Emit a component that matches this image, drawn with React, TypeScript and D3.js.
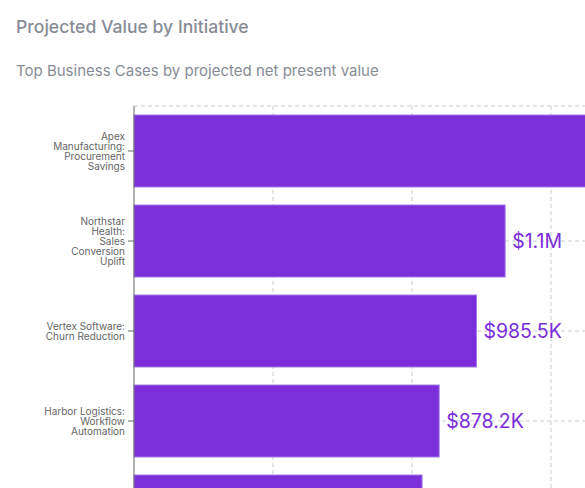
import * as d3 from "d3";
import * as React from "react";

// Business cases, ranked by projected NPV (USD)
const categories = [
  "Apex Manufacturing: Procurement Savings",
  "Northstar Health: Sales Conversion Uplift",
  "Vertex Software: Churn Reduction",
  "Harbor Logistics: Workflow Automation",
  "Summit Retail: Inventory Optimization",
];
const categoryLines = [
  ["Apex", "Manufacturing:", "Procurement", "Savings"],
  ["Northstar", "Health:", "Sales", "Conversion", "Uplift"],
  ["Vertex Software:", "Churn Reduction"],
  ["Harbor Logistics:", "Workflow", "Automation"],
  ["Summit Retail:", "Inventory", "Optimization"],
];
const values = [1450000, 1068000, 985500, 878200, 829000];
const xTicks = [0, 400000, 800000, 1200000, 1600000];

const width = 585;
const height = 488;
const margin = { top: 106, left: 134 };
const barColor = "#7b2ed9";
const gridColor = "#cccccc";
const fontFamily = "Inter, 'Noto Sans', sans-serif";

const fmt = (v: number) =>
  v >= 1e6 ? `$${(v / 1e6).toFixed(1)}M` : `$${(v / 1e3).toFixed(1)}K`;

export default function App() {
  const x = d3
    .scaleLinear()
    .domain([0, 1600000])
    .range([margin.left, margin.left + 556]);

  const y = d3
    .scaleBand()
    .domain(categories)
    .range([margin.top, margin.top + 450])
    .paddingInner(0.2)
    .paddingOuter(0.1);

  const center = (c: string) => (y(c) as number) + y.bandwidth() / 2;
  const gridBottom = margin.top + 450;

  return (
    <svg
      width={width}
      height={height}
      style={{ position: "absolute", left: 0, top: 0, fontFamily }}
    >
      <text x={16} y={33} fontSize={17.6} fontWeight={500} fill="#878c96">
        Projected Value by Initiative
      </text>
      <text x={16} y={76} fontSize={15} fill="#878c96">
        Top Business Cases by projected net present value
      </text>

      {/* grid */}
      <g stroke={gridColor} strokeDasharray="4 3">
        <line x1={margin.left} x2={width + 200} y1={margin.top} y2={margin.top} />
        {categories.map((c) => (
          <line key={c} x1={margin.left} x2={width + 200} y1={center(c)} y2={center(c)} />
        ))}
        {xTicks.slice(1).map((t) => (
          <line key={t} x1={x(t)} x2={x(t)} y1={margin.top} y2={gridBottom} />
        ))}
      </g>

      {/* bars */}
      {categories.map((c, i) => (
        <rect
          key={c}
          x={x(0)}
          y={y(c)}
          width={x(values[i]) - x(0)}
          height={y.bandwidth()}
          fill={barColor}
          stroke="#a27ce9"
          strokeWidth={1}
        />
      ))}

      {/* value labels */}
      {categories.map((c, i) => (
        <text
          key={c}
          x={x(values[i]) + 7}
          y={center(c)}
          dy="0.35em"
          fontSize={19.5}
          fill="#7b2ed9"
        >
          {fmt(values[i])}
        </text>
      ))}

      {/* y axis */}
      <line x1={margin.left} x2={margin.left} y1={margin.top} y2={gridBottom} stroke="#666" />
      {categories.map((c, i) => {
        const lines = categoryLines[i];
        const cy = center(c);
        return (
          <g key={c}>
            <line x1={margin.left - 6} x2={margin.left} y1={cy} y2={cy} stroke="#666" />
            <text textAnchor="end" fontSize={10} fill="#666">
              {lines.map((l, j) => (
                <tspan
                  key={j}
                  x={margin.left - 9}
                  y={cy + (j - (lines.length - 1) / 2) * 10}
                  dy="0.35em"
                >
                  {l}
                </tspan>
              ))}
            </text>
          </g>
        );
      })}
    </svg>
  );
}
